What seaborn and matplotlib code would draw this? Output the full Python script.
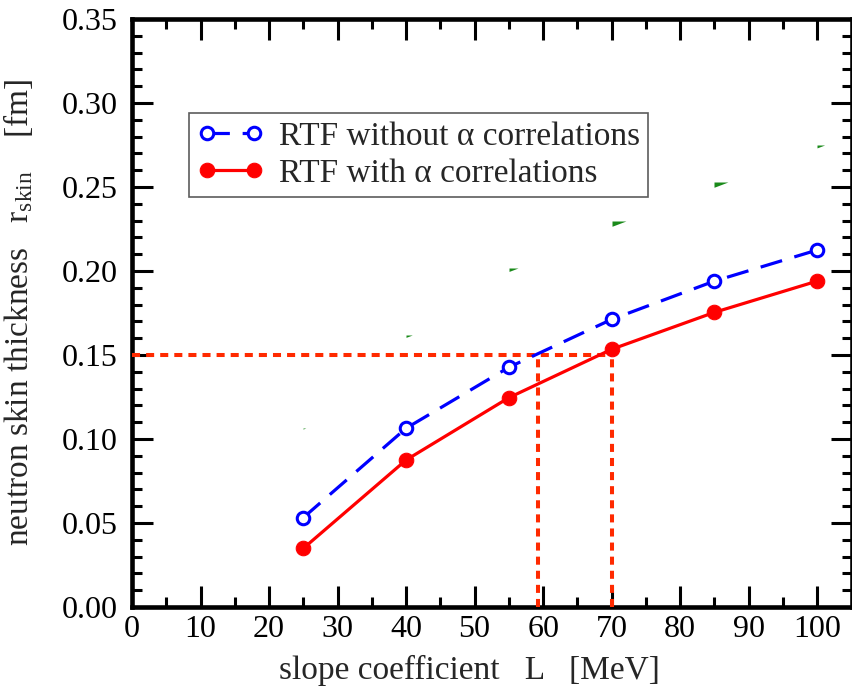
import numpy as np
import pandas as pd
import matplotlib
matplotlib.use("Agg")
import matplotlib.pyplot as plt
from matplotlib.path import Path
from matplotlib.ticker import MultipleLocator, FormatStrFormatter
import seaborn as sns

# slope coefficient L [MeV]
L_values = [25, 40, 55, 70, 85, 100]
# neutron skin thickness [fm]
r_without_alpha = [0.0532, 0.1064, 0.1427, 0.1712, 0.1940, 0.2125]
r_with_alpha = [0.0349, 0.0875, 0.1246, 0.1534, 0.1754, 0.1940]
# faint green reference marks
r_green = [0.1065, 0.162, 0.2018, 0.230, 0.253, 0.275]

# constraint r_skin = 0.15 fm and the corresponding L crossings
r_constraint = 0.15
L_crossings = [59.3, 70.0]

label_without = "RTF without \u03b1 correlations"
label_with = "RTF with \u03b1 correlations"

sns.set_theme(style="white")
plt.rcParams["font.family"] = ["Liberation Serif", "DejaVu Serif"]
plt.rcParams["mathtext.fontset"] = "custom"
plt.rcParams["mathtext.rm"] = "Liberation Serif"
plt.rcParams["mathtext.it"] = "Liberation Serif:italic"

fig = plt.figure(figsize=(8.52, 6.86), dpi=100)
ax = fig.add_axes([132 / 852, 1 - 607 / 686, (851.5 - 132) / 852, (607 - 19) / 686])

df = pd.DataFrame({"L": L_values, "without": r_without_alpha,
                   "with": r_with_alpha, "green": r_green})

sns.lineplot(data=df, x="L", y="without", ax=ax, color="#0000ff",
             linestyle=(0, (7, 4)), linewidth=2.3, marker="o",
             markersize=9, markerfacecolor="white", markeredgecolor="#0000ff",
             markeredgewidth=2.2, label=label_without, zorder=4)
sns.lineplot(data=df, x="L", y="with", ax=ax, color="#ff0000",
             linewidth=2.3, marker="o", markersize=10.5,
             markerfacecolor="#ff0000", markeredgecolor="#ff0000",
             label=label_with, zorder=4)

# small green wedge marks
wedge = Path([(0, 0), (1.0, 0.0), (0.0, -0.38), (0, 0)],
             [Path.MOVETO, Path.LINETO, Path.LINETO, Path.CLOSEPOLY])
wedge_sizes = [4, 9, 13, 20, 20, 11]
for x, y, s in zip(df["L"], df["green"], wedge_sizes):
    ax.plot([x], [y], marker=wedge, markersize=s, color="#1a8a1a",
            markeredgewidth=0, linestyle="none", zorder=3)

# dotted constraint lines
dot_kw = dict(color="#ff2a00", linewidth=2.9, linestyle=(0, (2.0, 1.5)), zorder=3)
ax.plot([0, max(L_crossings)], [r_constraint, r_constraint], **dot_kw)
for Lc in L_crossings:
    ax.plot([Lc, Lc], [0, r_constraint], **dot_kw)

ax.set_xlim(0, 105)
ax.set_ylim(0, 0.35)
ax.xaxis.set_major_locator(MultipleLocator(10))
ax.xaxis.set_minor_locator(MultipleLocator(5))
ax.yaxis.set_major_locator(MultipleLocator(0.05))
ax.yaxis.set_minor_locator(MultipleLocator(0.01))
ax.yaxis.set_major_formatter(FormatStrFormatter("%.2f"))

for sp in ax.spines.values():
    sp.set_linewidth(3.3)
    sp.set_color("black")

ax.tick_params(which="both", direction="in", top=True, right=True,
               bottom=True, left=True, colors="black", labelsize=23)
ax.tick_params(which="major", length=15, width=2.2)
ax.tick_params(which="minor", length=7.5, width=2.2)
ax.tick_params(axis="y", which="major", pad=10)
ax.tick_params(axis="x", which="major", pad=6)

ax.set_xlabel("slope coefficient   L   [MeV]", fontsize=24)
ax.set_ylabel(r"neutron skin thickness   r$_{\mathrm{skin}}$    [fm]", fontsize=24)
ax.xaxis.set_label_coords(0.469, -0.082)
ax.yaxis.set_label_coords(-0.135, 0.5)

leg = ax.legend(loc="upper left", bbox_to_anchor=(0.079, 0.840), fontsize=24,
                numpoints=2, handlelength=2.0, handletextpad=0.45,
                borderpad=0.25, labelspacing=0.2, frameon=True, fancybox=False,
                borderaxespad=0)
leg.get_frame().set_edgecolor("#333333")
leg.get_frame().set_linewidth(1.2)

fig.savefig("out.png", dpi=100)
